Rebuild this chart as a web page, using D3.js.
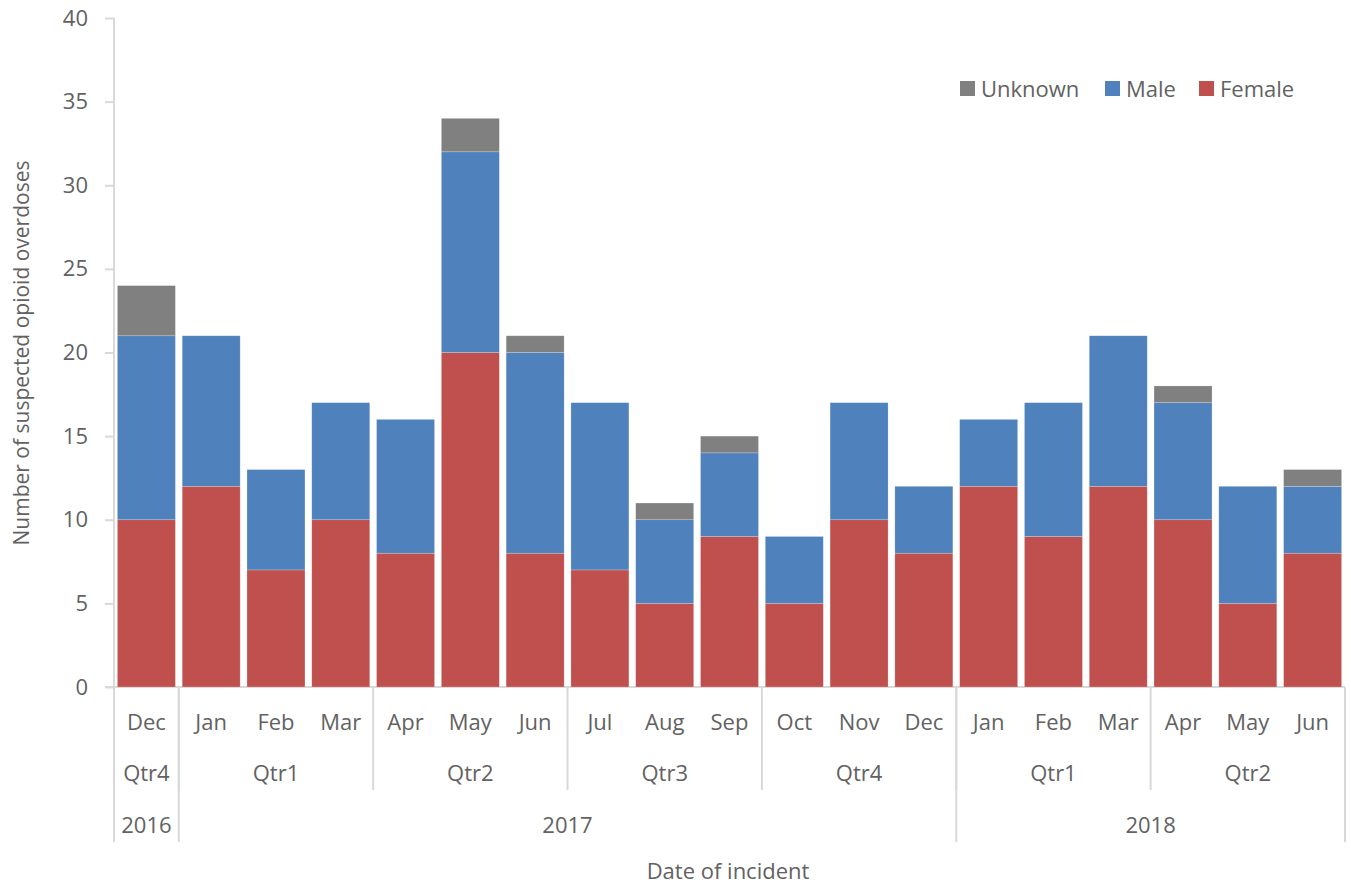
<!DOCTYPE html>
<html lang="en">
<head>
<meta charset="utf-8">
<script src="https://d3js.org/d3.v7.min.js"></script>
<style>
  body { margin: 0; background: #fff; }
  svg text { font-family: "Open Sans", sans-serif; font-weight: 400; fill: #626262; font-size: 22px; }
  .grid line, .grid path { stroke: #d9d9d9; stroke-width: 2; fill: none; }
</style>
</head>
<body>
<svg id="chart" width="1351" height="886"></svg>
<script>
// monthly categories, Dec 2016 .. Jun 2018
var months = ["Dec","Jan","Feb","Mar","Apr","May","Jun","Jul","Aug","Sep","Oct","Nov","Dec","Jan","Feb","Mar","Apr","May","Jun"];
// [label, first month index, end month index]
var quarters = [["Qtr4",0,1],["Qtr1",1,4],["Qtr2",4,7],["Qtr3",7,10],["Qtr4",10,13],["Qtr1",13,16],["Qtr2",16,19]];
var years = [["2016",0,1],["2017",1,13],["2018",13,19]];
var female  = [10,12,7,10,8,20,8,7,5,9,5,10,8,12,9,12,10,5,8];
var male    = [11,9,6,7,8,12,12,10,5,5,4,7,4,4,8,9,7,7,4];
var unknown = [3,0,0,0,0,2,1,0,1,1,0,0,0,0,0,0,1,0,1];
var yTicks = [0,5,10,15,20,25,30,35,40];
var seriesNames = ["Female","Male","Unknown"];
var legendOrder = ["Unknown","Male","Female"];
var colors = {Female: "#C0504D", Male: "#4F81BD", Unknown: "#808080"};

var svg = d3.select("#chart");
var plotLeft = 114, plotRight = 1345, plotTop = 18, plotBottom = 687;

var x = d3.scaleBand().domain(d3.range(months.length)).range([plotLeft, plotRight])
  .paddingInner(0.105).paddingOuter(0.0525);
var y = d3.scaleLinear().domain([0, 40]).range([plotBottom, plotTop]);
var edge = function(i) { return plotLeft + i * x.step(); };

// stacking table
var rows = months.map(function(m, i) {
  return {i: i, Female: female[i], Male: male[i], Unknown: unknown[i]};
});
var stacked = d3.stack().keys(seriesNames)(rows);

// axis lines first
var g = svg.append("g").attr("class", "grid");
var yAxis = g.append("g")
  .attr("transform", "translate(" + plotLeft + ",0)")
  .call(d3.axisLeft(y).tickValues(yTicks).tickSize(9).tickPadding(17));
yAxis.select(".domain").attr("d", "M0," + plotTop + "V842");
yAxis.selectAll("text").attr("font-family", null).attr("font-size", null).attr("fill", null);
g.append("line").attr("x1", plotLeft - 9).attr("x2", plotRight).attr("y1", plotBottom).attr("y2", plotBottom);
quarters.forEach(function(q) {
  if (q[1] > 0) g.append("line").attr("x1", edge(q[1])).attr("x2", edge(q[1])).attr("y1", plotBottom).attr("y2", 790);
});
years.forEach(function(yr) {
  if (yr[1] > 0) g.append("line").attr("x1", edge(yr[1])).attr("x2", edge(yr[1])).attr("y1", plotBottom).attr("y2", 842);
});
g.append("line").attr("x1", plotRight).attr("x2", plotRight).attr("y1", plotBottom).attr("y2", 842);

// bars
svg.append("g").selectAll("g")
  .data(stacked)
  .enter().append("g")
    .attr("fill", function(s) { return colors[s.key]; })
  .selectAll("rect")
  .data(function(s) { return s.filter(function(d) { return d[1] > d[0]; }); })
  .enter().append("rect")
    .attr("x", function(d) { return x(d.data.i); })
    .attr("width", x.bandwidth())
    .attr("y", function(d) { return y(d[1]); })
    .attr("height", function(d) { return y(d[0]) - y(d[1]); })
    .attr("stroke", "#ffffff")
    .attr("stroke-opacity", 0.35)
    .attr("stroke-width", 0.6);

// category labels
var lab = svg.append("g");
months.forEach(function(m, i) {
  lab.append("text").attr("x", edge(i) + x.step() / 2).attr("y", 730).attr("text-anchor", "middle").text(m);
});
quarters.forEach(function(q) {
  lab.append("text").attr("x", (edge(q[1]) + edge(q[2])) / 2).attr("y", 781).attr("text-anchor", "middle").text(q[0]);
});
years.forEach(function(yr) {
  lab.append("text").attr("x", (edge(yr[1]) + edge(yr[2])) / 2).attr("y", 833).attr("text-anchor", "middle").text(yr[0]);
});

// axis titles
lab.append("text").attr("x", 728).attr("y", 879).attr("text-anchor", "middle").text("Date of incident");
lab.append("text").attr("transform", "translate(29,353) rotate(-90)").attr("text-anchor", "middle")
  .style("font-size", "21px")
  .text("Number of suspected opioid overdoses");

// legend
var legendX = [960, 1105, 1199];
legendOrder.forEach(function(k, i) {
  var lg = svg.append("g").attr("transform", "translate(" + legendX[i] + ",81)");
  lg.append("rect").attr("width", 15).attr("height", 15).attr("fill", colors[k]);
  lg.append("text").attr("x", 21).attr("y", 16).text(k);
});
</script>
</body>
</html>
